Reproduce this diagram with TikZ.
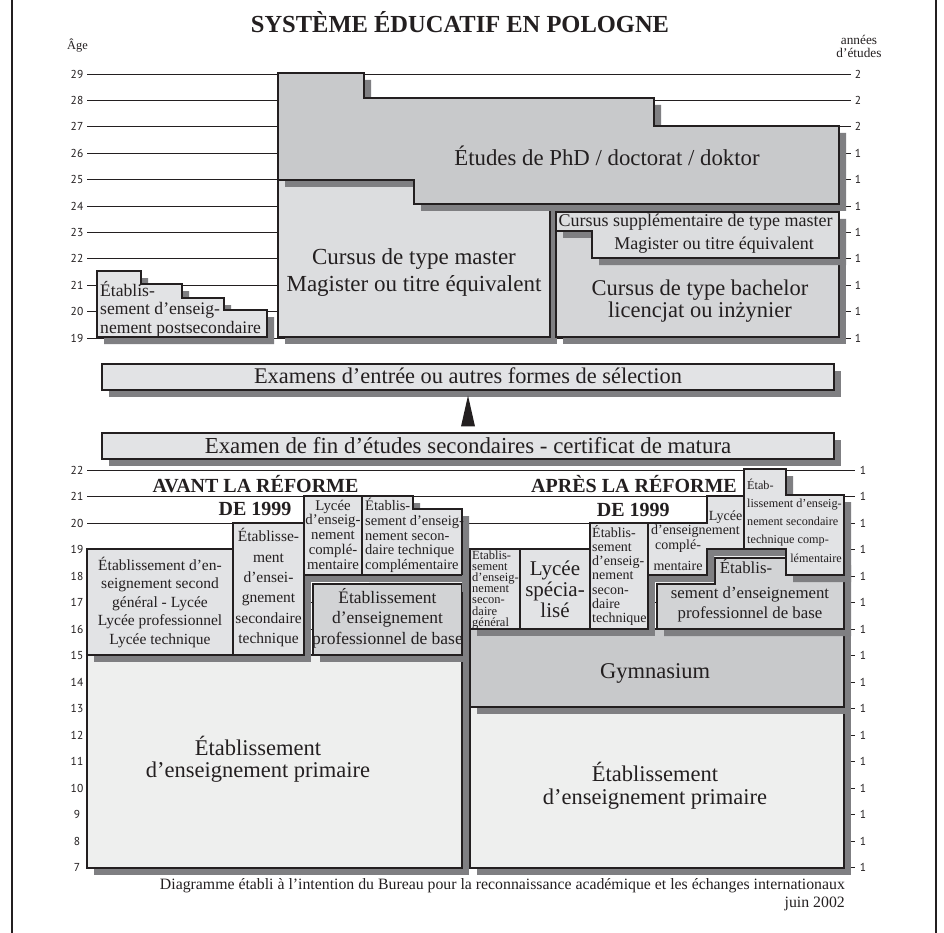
\documentclass[tikz,border=0pt]{standalone}
\usepackage{fontspec}
\setmainfont{Liberation Serif}
\newfontfamily\numfont{PT Sans}
\usetikzlibrary{shadows,calc}

\definecolor{ink}{HTML}{231F20}
\definecolor{sdw}{HTML}{7F7F82}
\definecolor{gPhd}{HTML}{C8C9CB}
\definecolor{gMaster}{HTML}{DCDDDF}
\definecolor{gBach}{HTML}{D4D5D7}
\definecolor{gLight}{HTML}{E2E3E5}
\definecolor{gBase}{HTML}{D2D3D5}
\definecolor{gPale}{HTML}{EEEFEE}

% font size helper
\newcommand\fs[1]{\fontsize{#1}{#1}\selectfont}
% stacked lines with a fixed baseline distance; the box baseline is the first line
\newcommand\cstack[2]{\vtop{\let\\\cr\baselineskip=#1\lineskiplimit=-100pt\lineskip=0pt\halign{\hfil##\hfil\cr#2\crcr}}}
\newcommand\lstack[2]{\vtop{\let\\\cr\baselineskip=#1\lineskiplimit=-100pt\lineskip=0pt\halign{##\hfil\cr#2\crcr}}}
% a filled outline with its offset shadow
\newcommand\plate[2]{%
  \fill[sdw,shift={(7,7)}] #2 -- cycle;
  \filldraw[fill=#1,draw=ink,line width=1.1pt,line join=miter] #2 -- cycle;}

\begin{document}
\begin{tikzpicture}[x=1pt,y=-1pt,
  lbl/.style={inner sep=0pt,text=ink},
  num/.style={inner sep=0pt,text=ink,anchor=base,font=\numfont\fs{11.5}},
  bar/.style={draw=ink,fill=gLight,line width=1.1pt,inner sep=0pt,
    minimum width=732pt,minimum height=26pt,text=ink,
    drop shadow={shadow xshift=7pt,shadow yshift=-7pt,fill=sdw,opacity=1}},
  rule/.style={draw=ink,line width=0.9pt}]
\useasboundingbox (0,0) rectangle (944,933);
\fill[white] (0,0) rectangle (944,933);

% side rules of the frame
\draw[ink,line width=1.3pt] (12,0) -- (12,933) (936,0) -- (936,933);

% title and axis captions
\node[lbl,anchor=base] (title) at (460,33) {\fs{24.5}\bfseries SYSTÈME ÉDUCATIF EN POLOGNE};
\node[lbl,anchor=base west] (age) at (67,50) {\fs{12.4}Âge};
\node[lbl,anchor=base] (annees) at (859,45) {\fs{13.3}années};
\node[lbl,anchor=base] (detudes) at (859,57.3) {\fs{13.3}d’études};

% ---------- higher education: age scale ----------
\foreach \a/\n in {29/2,28/2,27/2,26/1,25/1,24/1,23/1,22/1,21/1,20/1,19/1}{
  \pgfmathsetmacro\yy{338-26.4*(\a-19)}
  \draw[rule] (87,\yy) -- (851,\yy);
  \node[num] (ua\a) at (77,{\yy+4.1}) {\a};
  \node[num] (un\a) at (858,{\yy+4.1}) {\n};
}

% ---------- higher education: blocks ----------
\plate{gLight}{(97,271) -- (141,271) -- (141,284) -- (182,284) -- (182,298) -- (224,298) -- (224,310) -- (267,310) -- (267,337) -- (97,337)}
\plate{gMaster}{(278,180) -- (550,180) -- (550,337) -- (278,337)}
\plate{gBach}{(556,231) -- (839,231) -- (839,337) -- (556,337)}
\plate{gMaster}{(556,212) -- (839,212) -- (839,258) -- (592,258) -- (592,231) -- (556,231)}
\plate{gPhd}{(278,73) -- (364,73) -- (364,98) -- (654,98) -- (654,126) -- (839,126) -- (839,204) -- (414,204) -- (414,180) -- (278,180)}

\node[lbl,anchor=base west] (postsec) at (100,296.7) {\fs{17.6}\lstack{18.2pt}{Établis-\\sement d’enseig-\\nement postsecondaire}};
\node[lbl,anchor=base] (master) at (414,265) {\fs{23}\cstack{26pt}{Cursus de type master\\Magister ou titre équivalent}};
\node[lbl,anchor=base] (phd) at (607,166) {\fs{22.8}Études de PhD / doctorat / doktor};
\node[lbl,anchor=base west] (supp1) at (558.5,226.7) {\fs{18}Cursus supplémentaire de type master};
\node[lbl,anchor=base] (supp2) at (714,249.3) {\fs{18}Magister ou titre équivalent};
\node[lbl,anchor=base] (bach) at (700,295) {\fs{22.5}\cstack{22.3pt}{Cursus de type bachelor\\licencjat ou inżynier}};

% ---------- selection ----------
\node[bar,text height=15pt,text depth=3pt] (entree) at (468,377) {\fs{22.4}Examens d’entrée ou autres formes de sélection};
\node[bar,text height=16pt,text depth=2pt] (fin) at (468,446) {\fs{22.9}Examen de fin d’études secondaires - certificat de matura};
\fill[ink] ($(fin.north)+(-7,-6)$) -- ($(fin.north)+(7,-6)$) -- ($(entree.south)+(0,5)$) -- cycle;

% ---------- school education: age scale ----------
\foreach \a in {22,21,...,7}{
  \pgfmathsetmacro\yy{867.7-26.5*(\a-7)}
  \draw[rule] (87,\yy) -- (855,\yy);
  \node[num] (la\a) at (77,{\yy+4.1}) {\a};
  \node[num] (ln\a) at (863,{\yy+4.1}) {1};
}

% ---------- before the 1999 reform ----------
\plate{gPale}{(87,655) -- (462,655) -- (462,868) -- (87,868)}
\plate{gLight}{(87,549) -- (233,549) -- (233,655) -- (87,655)}
\plate{gLight}{(233,523) -- (304,523) -- (304,655) -- (233,655)}
\plate{gLight}{(304,496) -- (362,496) -- (362,575) -- (304,575)}
\plate{gLight}{(362,496) -- (413,496) -- (413,509) -- (462,509) -- (462,575) -- (362,575)}
\plate{gBase}{(313,584) -- (462,584) -- (462,655) -- (313,655)}
\fill[sdw] (462,575) rectangle (469,592);

\node[lbl,anchor=base] (avant) at (255.5,492) {\fs{20}\bfseries AVANT LA RÉFORME};
\node[lbl,anchor=base] (avantde) at (255,515) {\fs{20}\bfseries DE 1999};
\node[lbl,anchor=base] (l1) at (160,570) {\fs{15.5}\cstack{18.5pt}{Établissement d’en-\\seignement second\\général - Lycée\\Lycée professionnel\\Lycée technique}};
\node[lbl,anchor=base] (l2) at (268.5,541.7) {\fs{15.5}\cstack{20.4pt}{Établisse-\\ment\\d’ensei-\\gnement\\secondaire\\technique}};
\node[lbl,anchor=base] (l3) at (333,510) {\fs{14.8}\cstack{14.8pt}{Lycée\\d’enseig-\\nement\\complé-\\mentaire}};
\node[lbl,anchor=base west] (l4) at (365,510.7) {\fs{14.5}\lstack{14.7pt}{Établis-\\sement d’enseig-\\nement secon-\\daire technique\\complémentaire}};
\node[lbl,anchor=base] (l5) at (387.5,603.3) {\fs{17.5}\cstack{20.4pt}{Établissement\\d’enseignement\\professionnel de base}};
\node[lbl,anchor=base] (l6) at (258,755) {\fs{22.5}\cstack{22.3pt}{Établissement\\d’enseignement primaire}};

% ---------- after the 1999 reform ----------
\plate{gPale}{(470,707) -- (844,707) -- (844,868) -- (470,868)}
\plate{gPhd}{(470,629) -- (844,629) -- (844,707) -- (470,707)}
\plate{gLight}{(470,549) -- (520,549) -- (520,629) -- (470,629)}
\plate{gLight}{(520,549) -- (590,549) -- (590,629) -- (520,629)}
\plate{gLight}{(590,523) -- (648,523) -- (648,629) -- (590,629)}
\plate{gBase}{(657,584) -- (715,584) -- (715,558) -- (844,558) -- (844,629) -- (657,629)}
\plate{gLight}{(648,523) -- (707,523) -- (707,496) -- (744,496) -- (744,549) -- (707,549) -- (707,575) -- (648,575)}
\plate{gLight}{(744,469) -- (786,469) -- (786,495) -- (844,495) -- (844,575) -- (786,575) -- (786,549) -- (744,549)}

\node[lbl,anchor=base] (apres) at (634,492.7) {\fs{20}\bfseries APRÈS LA RÉFORME};
\node[lbl,anchor=base] (apresde) at (633.3,516) {\fs{20}\bfseries DE 1999};
\node[lbl,anchor=base west] (r1) at (472,559) {\fs{12.5}\lstack{11.2pt}{Établis-\\sement\\d’enseig-\\nement\\secon-\\daire\\général}};
\node[lbl,anchor=base] (r2) at (555,575) {\fs{21}\cstack{21pt}{Lycée\\spécia-\\lisé}};
\node[lbl,anchor=base west] (r3) at (592,537) {\fs{14}\lstack{14.3pt}{Établis-\\sement\\d’enseig-\\nement\\secon-\\daire\\technique}};
\node[lbl,anchor=base east] (r4a) at (742.5,520) {\fs{14}Lycée};
\node[lbl,anchor=base west] (r4b) at (651,534) {\fs{14}d’enseignement};
\node[lbl,anchor=base] (r4c) at (678,549) {\fs{14}complé-};
\node[lbl,anchor=base] (r4d) at (678,570) {\fs{14}mentaire};
\node[lbl,anchor=base west] (r5) at (747,489) {\fs{12.2}\lstack{18.2pt}{Étab-\\lissement d’enseig-\\nement secondaire\\technique comp-}};
\node[lbl,anchor=base east] (r5e) at (842,562) {\fs{12.2}lémentaire};
\node[lbl,anchor=base] (r6a) at (746,573) {\fs{16.8}Établis-};
\node[lbl,anchor=base] (r6b) at (750,598) {\fs{16.8}sement d’enseignement};
\node[lbl,anchor=base] (r6c) at (750,618) {\fs{16.8}professionnel de base};
\node[lbl,anchor=base] (gym) at (655,678.3) {\fs{22.5}Gymnasium};
\node[lbl,anchor=base] (rp) at (655,781.7) {\fs{22.5}\cstack{22.6pt}{Établissement\\d’enseignement primaire}};

% ---------- credit line ----------
\node[lbl,anchor=base east] (credit) at (845,889.3) {\fs{15.8}Diagramme établi à l’intention du Bureau pour la reconnaissance académique et les échanges internationaux};
\node[lbl,anchor=base east] (date) at (845,907.7) {\fs{15.8}juin 2002};
\end{tikzpicture}
\end{document}
